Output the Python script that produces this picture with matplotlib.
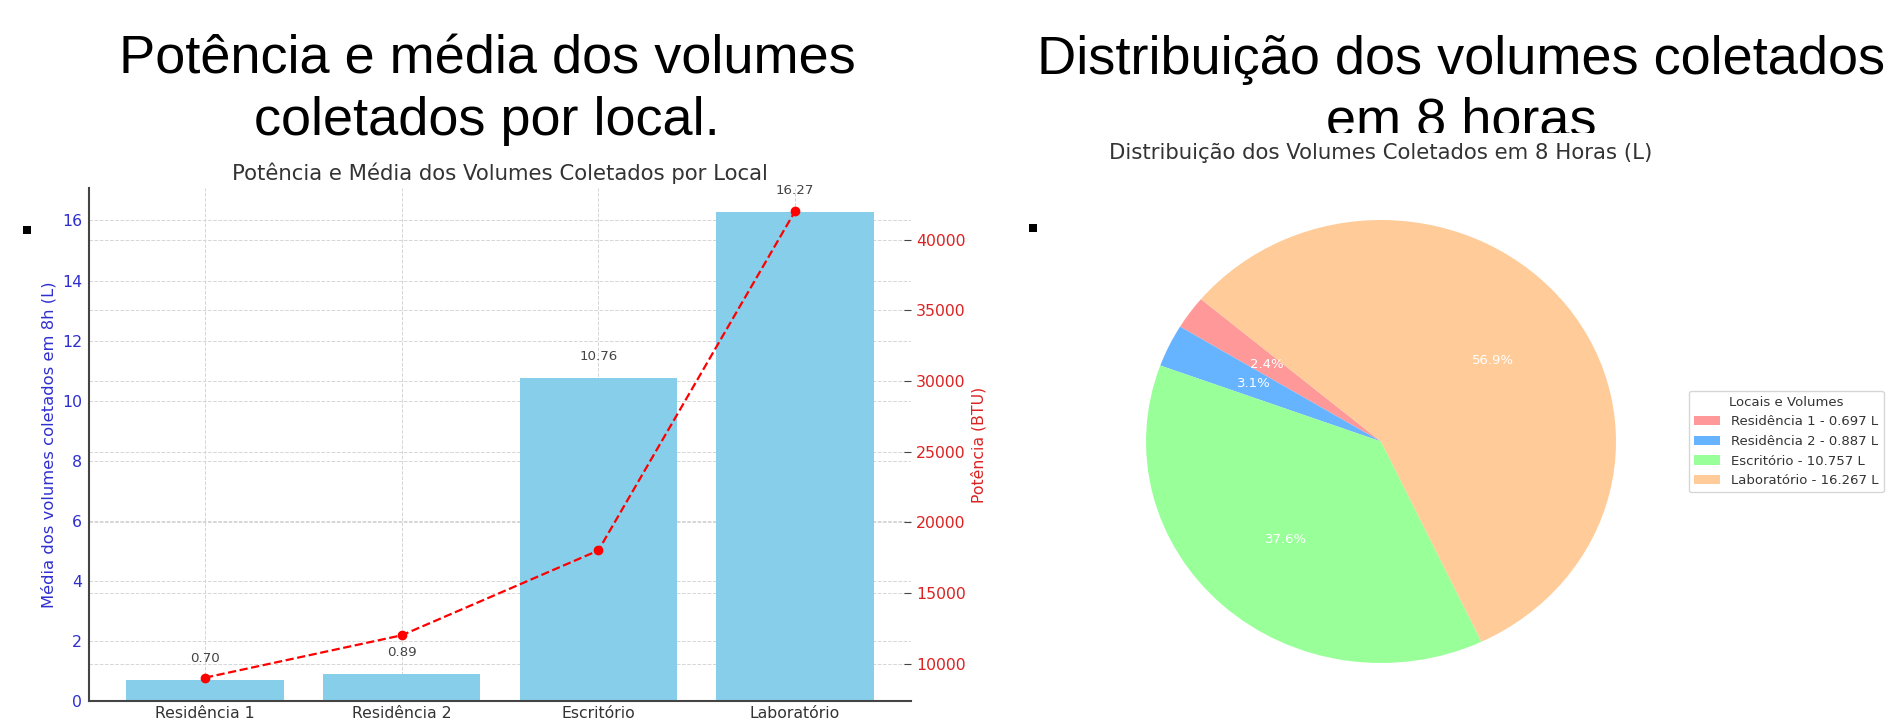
import matplotlib
matplotlib.use('Agg')
import matplotlib.pyplot as plt
from matplotlib.patches import Rectangle

# data
locais = ['Residência 1', 'Residência 2', 'Escritório', 'Laboratório']
volumes = [0.697, 0.887, 10.757, 16.267]   # media em 8h (L)
potencia = [9000, 12000, 18000, 42000]     # BTU
cores_pizza = ['#ff9999', '#66b3ff', '#99ff99', '#ffcc99']

titulo_esq = ['Potência e média dos volumes', 'coletados por local.']
titulo_dir = ['Distribuição dos volumes coletados', 'em 8 horas']

W, H = 1904, 718
GRAY = '#333333'
GRID = dict(linestyle='--', color='#d6d6d6', linewidth=0.7)


def fx(px):
    return px / W


def fy(px):
    # pixel from top -> figure fraction
    return (H - px) / H


def bar_chart(fig):
    rect = [fx(89), fy(701), fx(911) - fx(89), fy(188) - fy(701)]
    ax1 = fig.add_axes(rect)
    ax2 = ax1.twinx()   # right ticks + grid, below the bars
    ax3 = ax1.twinx()   # the power line, above the bars

    ax2.set_zorder(1)
    ax2.patch.set_visible(True)
    ax2.patch.set_facecolor('white')
    ax1.set_zorder(2)
    ax1.patch.set_visible(False)
    ax3.set_zorder(3)

    x = range(len(locais))
    ax1.bar(x, volumes, color='skyblue', width=0.8)
    ax1.set_xticks(list(x))
    ax1.set_xticklabels(locais)
    for i, v in enumerate(volumes):
        ax1.text(i, v + 0.5, f'{v:.2f}', ha='center', va='bottom',
                 fontsize=9.6, color='#444444')

    ax3.plot(x, potencia, color='red', linestyle='--', marker='o',
             markersize=6, linewidth=1.6)
    ax3.axis('off')
    ax2.set_ylim(ax3.get_ylim())

    ax1.set_axisbelow(True)
    ax1.grid(True, **GRID)
    ax2.grid(True, axis='y', **GRID)

    for s in ['top', 'right']:
        ax1.spines[s].set_visible(False)
    for s in ['left', 'bottom']:
        ax1.spines[s].set_color('#444444')
        ax1.spines[s].set_linewidth(1.5)
    for s in ax2.spines.values():
        s.set_visible(False)

    ax1.tick_params(axis='x', direction='in', length=4, color='#444444',
                    labelsize=11.3, labelcolor=GRAY)
    ax1.tick_params(axis='y', direction='in', length=0, pad=5,
                    labelsize=11.3, labelcolor='#2f2fd0')
    ax2.tick_params(axis='y', direction='in', length=5, color='#444444',
                    labelsize=11.3, labelcolor='#dd2222')

    ax1.set_ylabel('Média dos volumes coletados em 8h (L)', color='#2f2fd0',
                   fontsize=11.8)
    ax2.set_ylabel('Potência (BTU)', color='#dd2222', fontsize=11.3)
    ax1.set_title('Potência e Média dos Volumes Coletados por Local',
                  fontsize=15.3, color=GRAY)


def pie_chart(fig):
    # white panel of the pasted pie picture (hides bottom of the title)
    fig.add_artist(Rectangle((fx(1020), 0), 1 - fx(1020), fy(133),
                             transform=fig.transFigure, facecolor='white',
                             edgecolor='none', zorder=4))

    rect = [fx(1146), fy(663), fx(1616) - fx(1146), fy(220) - fy(663)]
    ax = fig.add_axes(rect)
    ax.set_zorder(5)
    wedges, _, _ = ax.pie(volumes, colors=cores_pizza, autopct='%1.1f%%',
                          startangle=140,
                          textprops={'color': 'white', 'fontsize': 9.5})
    ax.set_xlim(-1, 1)
    ax.set_ylim(-1, 1)
    ax.set_aspect('auto')
    ax.set_title('Distribuição dos Volumes Coletados em 8 Horas (L)',
                 fontsize=15.3, color=GRAY, pad=44)

    labels = [f'{l} - {v:.3f} L' for l, v in zip(locais, volumes)]
    leg = ax.legend(wedges, labels, title='Locais e Volumes',
                    loc='center left', bbox_to_anchor=(fx(1682), fy(441.5)),
                    bbox_transform=fig.transFigure, fontsize=9.5,
                    title_fontsize=9.5, labelcolor=GRAY)
    leg.get_title().set_color(GRAY)


if __name__ == '__main__':
    fig = plt.figure(figsize=(W / 100, H / 100), dpi=100)

    # slide titles
    for cx, linhas in [(487, titulo_esq), (1461, titulo_dir)]:
        for linha, base in zip(linhas, [74, 135]):
            fig.text(fx(cx), fy(base), linha, ha='center', va='baseline',
                     fontsize=39, family='Liberation Sans', color='black')

    bar_chart(fig)
    pie_chart(fig)

    # little bullet squares
    for x0, y0 in [(23, 234), (1029, 232)]:
        fig.add_artist(Rectangle((fx(x0), fy(y0)), 8 / W, 8 / H,
                                 transform=fig.transFigure,
                                 facecolor='black', zorder=6))

    fig.savefig('out.png', dpi=100)
